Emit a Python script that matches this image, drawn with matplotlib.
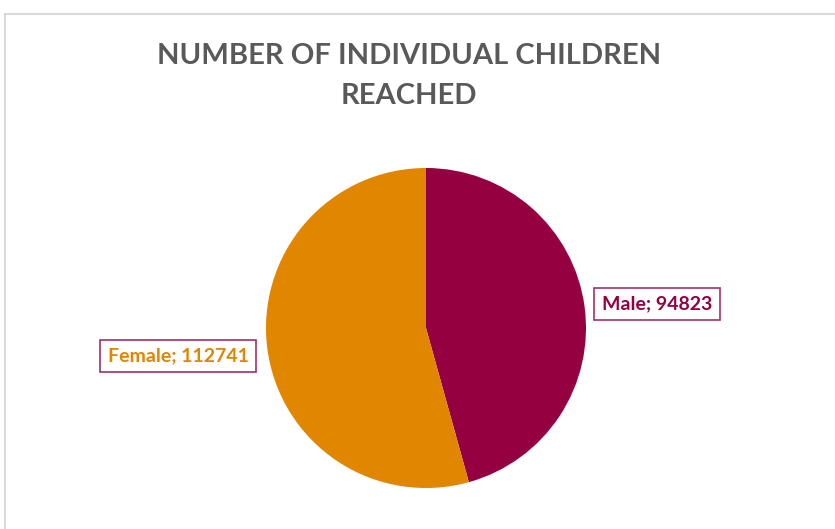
import matplotlib.pyplot as plt
from matplotlib.patches import Rectangle

# data
labels = ["Male", "Female"]
values = [94823, 112741]
colors = ["#950040", "#E08600"]
label_colors = ["#950040", "#E08600"]

fig = plt.figure(figsize=(8.35, 5.29), dpi=100)
ax = fig.add_axes([0, 0, 1, 1])
ax.set_xlim(0, 835)
ax.set_ylim(0, 529)
ax.set_aspect("equal")
ax.axis("off")

# chart area border
ax.add_patch(Rectangle((5, -10), 850, 525, fill=False, edgecolor="#d9d9d9", linewidth=1.5))

ax.pie(values, colors=colors, startangle=90, counterclock=False,
       center=(426, 201), radius=160, wedgeprops=dict(linewidth=0))
ax.set_xlim(0, 835)
ax.set_ylim(0, 529)

ax.text(409, 453, "NUMBER OF INDIVIDUAL CHILDREN\nREACHED", ha="center", va="center",
        fontsize=21, fontweight="bold", color="#595959", family="Lato", linespacing=1.65)

# data labels
pos = [(657, 225), (178, 173)]
for lab, v, c, (x, y) in zip(labels, values, label_colors, pos):
    ax.text(x, y, f"{lab}; {v}", ha="center", va="center", fontsize=14,
            fontweight="bold", color=c, family="Lato",
            bbox=dict(boxstyle="square,pad=0.38", facecolor="white",
                      edgecolor="#a3306a", linewidth=1.2))

fig.savefig("out.png", dpi=100)
